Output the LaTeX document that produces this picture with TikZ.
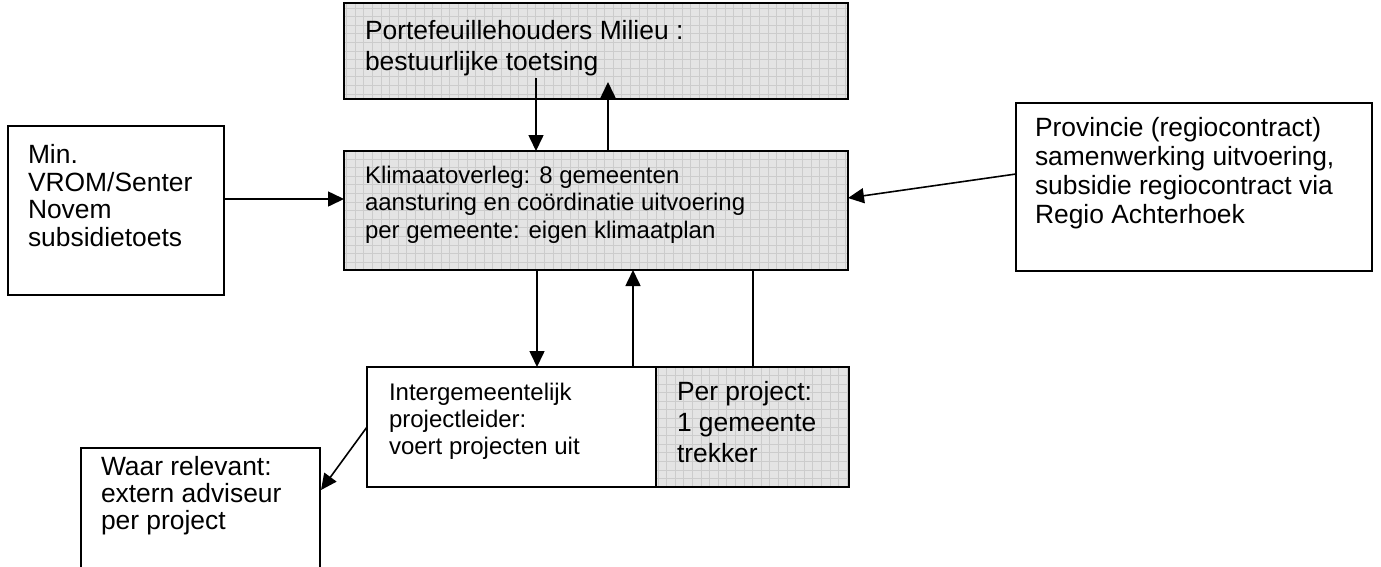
\documentclass[tikz,border=0pt]{standalone}
\usepackage{fontspec}
\setmainfont{Liberation Sans}
\usetikzlibrary{arrows.meta,calc}
\definecolor{boxfill}{RGB}{228,228,228}
\definecolor{gridc}{RGB}{204,204,204}
\tikzset{
  box/.style={draw=black, line width=1.5pt, inner sep=0pt, outer sep=0pt, anchor=north west, fill=white},
  gbox/.style={box, fill=boxfill,
    path picture={\draw[gridc, line width=0.8pt, step=8.6pt]
      (path picture bounding box.south west) grid (path picture bounding box.north east);}},
  arr/.style={line width=1.6pt, -{Triangle[length=16pt,width=15pt]}},
  conn/.style={line width=1.6pt},
  txt/.style={anchor=north west, inner sep=0pt, outer sep=0pt, align=left},
  bigf/.style={font=\fontsize{26.4pt}{#1pt}\selectfont},
  smallf/.style={font=\fontsize{24pt}{#1pt}\selectfont}
}
\begin{document}
\begin{tikzpicture}[x=1pt,y=-1pt]
\clip (0,0) rectangle (1381,566);
\fill[white] (0,0) rectangle (1381,566);
% boxes
\node[gbox, minimum width=504pt, minimum height=96pt] (top) at (344,3) {};
\node[gbox, minimum width=504pt, minimum height=119pt] (main) at (344,151) {};
\node[box, minimum width=216pt, minimum height=169pt] (left) at (8,126) {};
\node[box, minimum width=356pt, minimum height=168pt] (prov) at (1016,103) {};
\node[box, minimum width=289pt, minimum height=120pt] (inter) at (367,367) {};
\node[gbox, minimum width=193pt, minimum height=120pt] (per) at (656,367) {};
\node[box, minimum width=239pt, minimum height=170pt] (waar) at (81,448) {};
% texts
\node[txt, bigf=31] (ttop) at (365,20.5) {Portefeuillehouders Milieu :\\bestuurlijke toetsing};
\node[txt, smallf=27.5] (tmain) at (365,166) {Klimaatoverleg: 8 gemeenten\\aansturing en coördinatie uitvoering\\per gemeente: eigen klimaatplan};
\node[txt, bigf=27.6] (tleft) at (28,144.5) {Min.\\VROM/Senter\\Novem\\subsidietoets};
\node[txt, bigf=29] (tprov) at (1035,117.5) {Provincie (regiocontract)\\samenwerking uitvoering,\\subsidie regiocontract via\\Regio Achterhoek};
\node[txt, smallf=27] (tinter) at (389,383.5) {Intergemeentelijk\\projectleider:\\voert projecten uit};
\node[txt, bigf=31] (tper) at (677,381.5) {Per project:\\1 gemeente\\trekker};
\node[txt, bigf=26.7] (twaar) at (101,456.5) {Waar relevant:\\extern adviseur\\per project};
% connector coordinates
\coordinate (a1) at (536,78);
\coordinate (a2) at (608,82);
\coordinate (a3) at (224,199);
\coordinate (a4) at (1016,174);
\coordinate (a4t) at (848,198);
\coordinate (a5) at (537,0);
\coordinate (a6) at (633,0);
\coordinate (a7) at (753,0);
\coordinate (a8) at (367,427);
\coordinate (a8t) at (321,490);
% connectors
\draw[arr] (a1) -- (a1 |- main.north);
\draw[arr] (a2 |- main.north) -- (a2);
\draw[arr] (a3) -- (a3 -| main.west);
\draw[arr] (a4) -- (a4t);
\draw[arr] (a5 |- main.south) -- (a5 |- inter.north);
\draw[arr] (a6 |- inter.north) -- (a6 |- main.south);
\draw[conn] (a7 |- main.south) -- (a7 |- per.north);
\draw[arr] (a8) -- (a8t);
\end{tikzpicture}
\end{document}
